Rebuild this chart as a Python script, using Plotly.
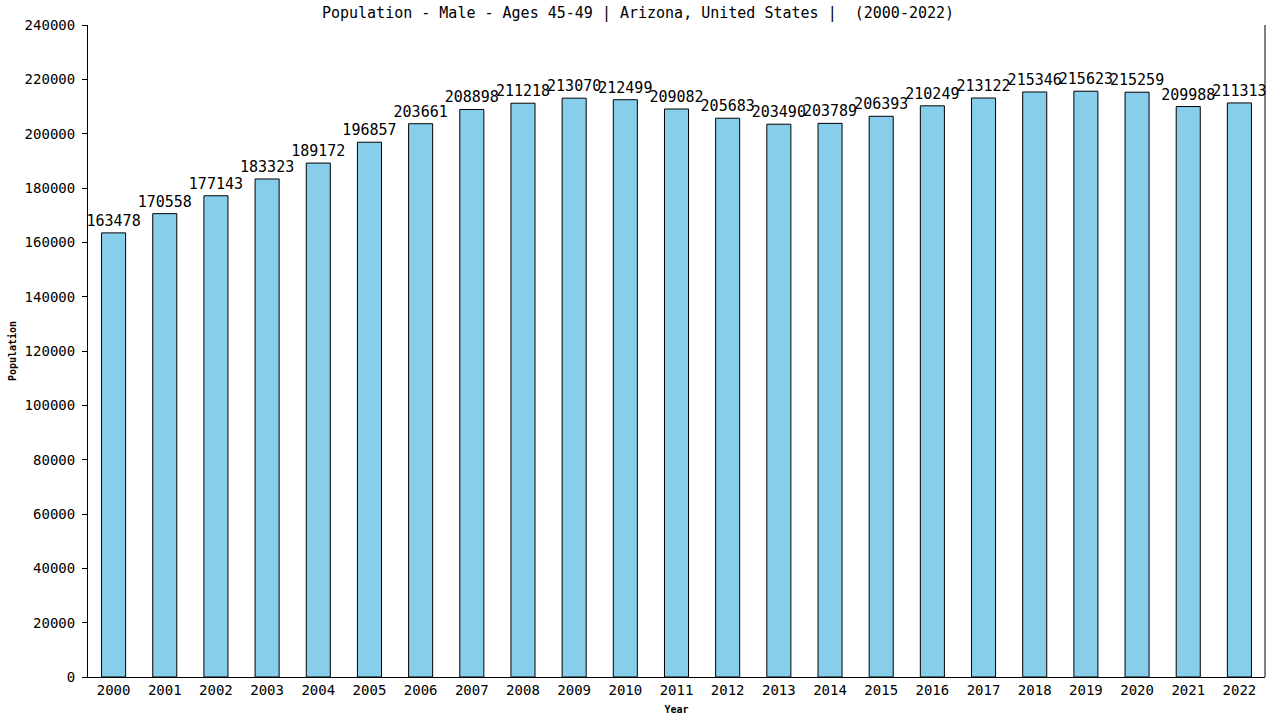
import plotly.graph_objects as go

years = [str(y) for y in range(2000, 2023)]
population = [163478, 170558, 177143, 183323, 189172, 196857, 203661, 208898, 211218, 213070,
              212499, 209082, 205683, 203490, 203789, 206393, 210249, 213122, 215346, 215623,
              215259, 209988, 211313]
y_ticks = list(range(0, 240001, 20000))

MONO = "DejaVu Sans Mono"
W, H = 1280, 720

fig = go.Figure(go.Bar(
    x=years, y=population,
    marker=dict(color="skyblue", line=dict(color="black", width=1)),
    width=0.47,
    text=[str(v) for v in population],
    textposition="outside",
    constraintext="none",
    textfont=dict(family=MONO, size=15, color="black"),
    cliponaxis=False,
))

fig.update_layout(
    width=W, height=H,
    margin=dict(l=88, r=15, t=25, b=43, autoexpand=False),
    plot_bgcolor="white", paper_bgcolor="white",
    title=dict(text="Population - Male - Ages 45-49 | Arizona, United States |  (2000-2022)",
               x=638 / W, xref="container", xanchor="center",
               y=1 - 13 / H, yref="container", yanchor="middle",
               font=dict(family=MONO, size=15, color="black")),
    showlegend=False,
)
fig.update_xaxes(
    type="category", range=[-0.5, 22.5], automargin=False,
    showline=True, linecolor="black", linewidth=1,
    ticks="", tickfont=dict(family=MONO, size=14, color="black"),
    title=dict(text="<b>Year</b>", font=dict(family=MONO, size=10, color="black"), standoff=9),
    showgrid=False,
)
fig.update_yaxes(
    range=[0, 240000], tickvals=y_ticks, ticktext=[str(v) for v in y_ticks],
    automargin=False,
    showline=True, linecolor="black", linewidth=1,
    ticks="outside", ticklen=5, tickcolor="black",
    ticklabelstandoff=4,
    tickfont=dict(family=MONO, size=14, color="black"),
    title=dict(text="<b>Population</b>", font=dict(family=MONO, size=10, color="black"), standoff=6),
    showgrid=False, zeroline=False,
)
fig.add_shape(type="line", xref="paper", yref="paper", x0=1, x1=1, y0=0, y1=1,
              line=dict(color="black", width=1))

fig.write_html("out.html",
               config={"displayModeBar": False},
               post_script="document.body.style.margin='0';document.body.style.overflow='hidden';")
